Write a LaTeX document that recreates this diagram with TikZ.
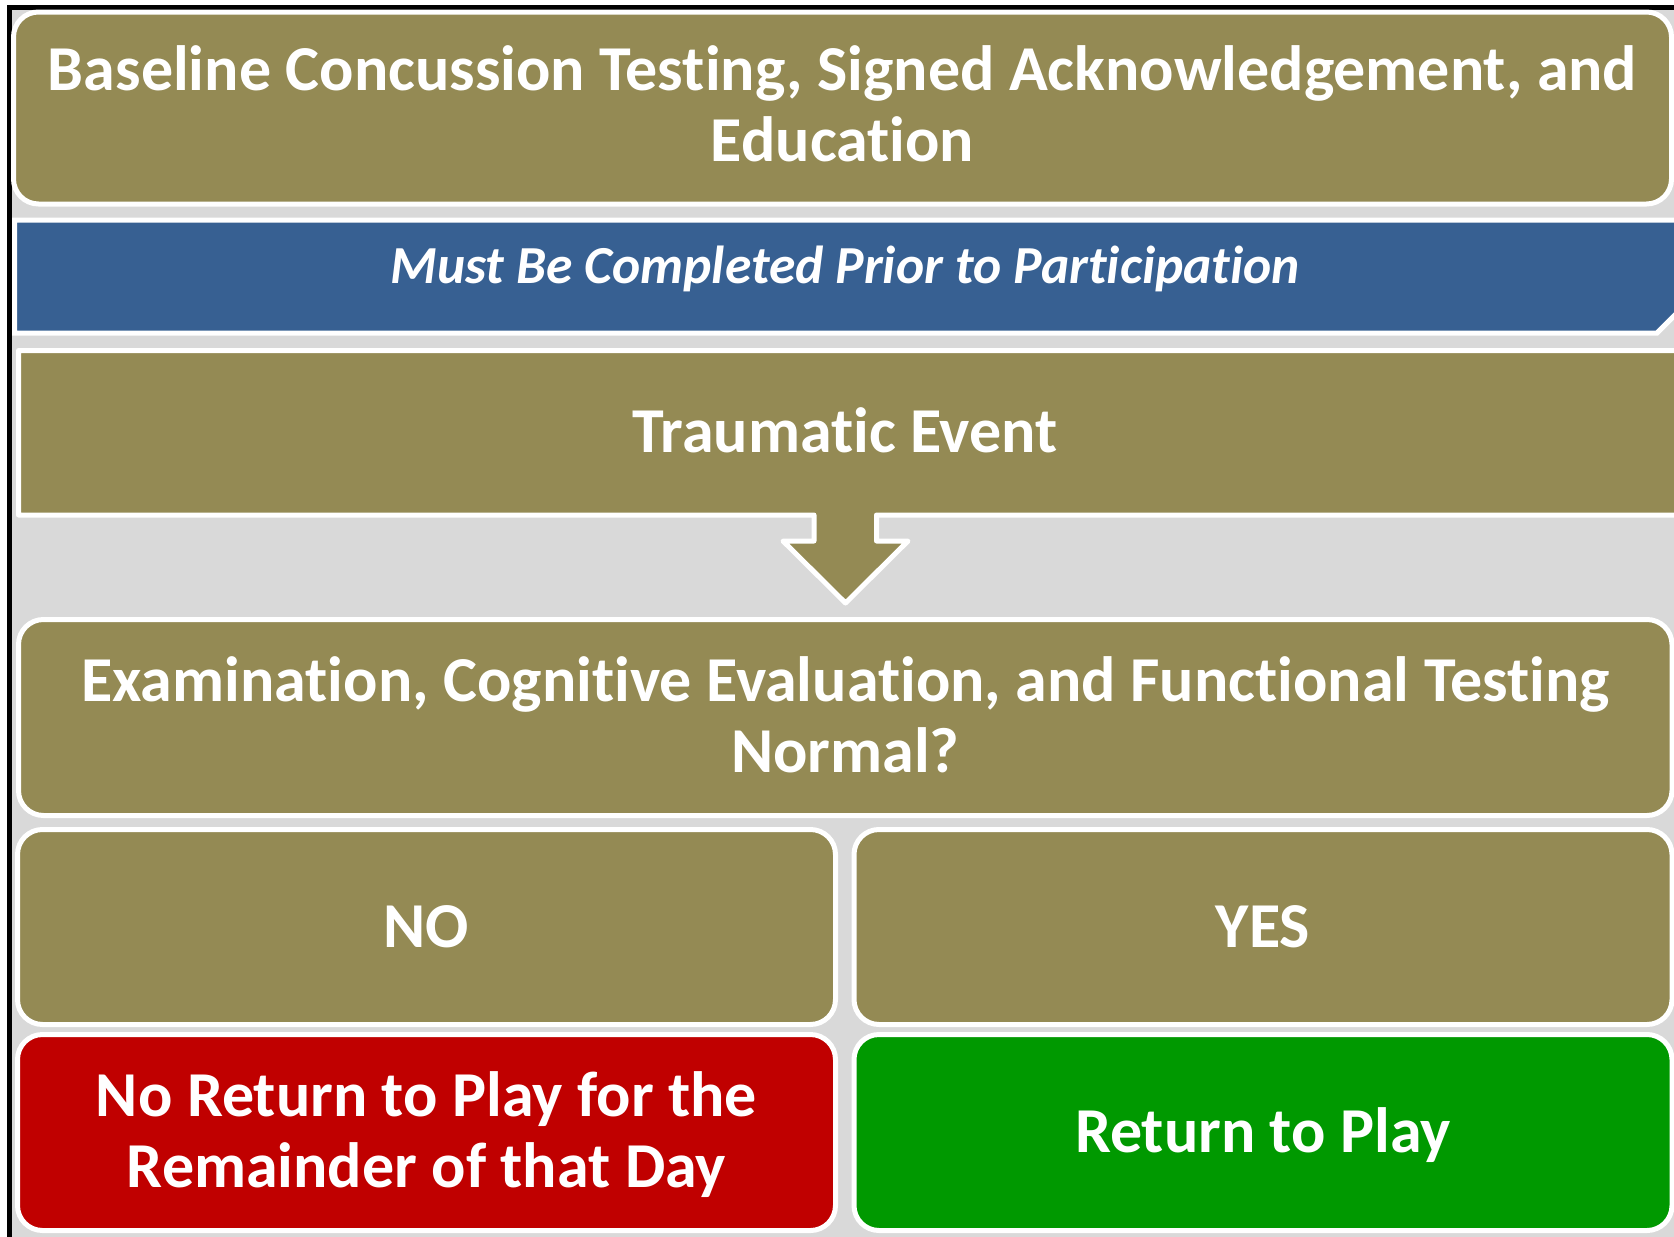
\documentclass[tikz,border=0pt]{standalone}
\usepackage{fontspec}
\setmainfont{Carlito}[Ligatures = NoCommon]

\definecolor{boxolive}{HTML}{948A54}
\definecolor{bandblue}{HTML}{376092}
\definecolor{stopred}{HTML}{C00000}
\definecolor{playgreen}{HTML}{009900}
\definecolor{bggray}{HTML}{D9D9D9}

\begin{document}
\begin{tikzpicture}[x = 1pt,
                    y = -1pt,
                    line width = 5pt,
                    line join = round,
                    box/.style = {draw = white, fill = boxolive, rounded corners = 25pt, inner sep = 0pt},
                    wide/.style = {minimum width = 1653.5pt, minimum height = 196pt},
                    half/.style = {minimum width = 818pt, minimum height = 196pt},
                    txt/.style = {text = white, align = center, inner sep = 0pt,
                                  font = \fontsize{64}{70.5}\selectfont\bfseries}]

    \clip (0,0) rectangle (1674,1237);

    % page ground and frame
    \fill[bggray] (12,10) rectangle (1674,1237);
    \draw[black, line join = miter] (9.5,1240) |- (1680,7.5);

    \node[box, minimum width = 1658pt, minimum height = 192pt] (base) at (842.5,108) {};
    \node[txt] (basetext) at ([yshift = 4pt]base)
        {Baseline Concussion Testing, Signed Acknowledgement, and\\Education};

    % blue band
    \draw[fill = bandblue, draw = white, line join = miter]
        (14.5,220) -- (1690,220) -- (1690,300) -- (1657,333) -- (14.5,333) -- cycle;
    \node[txt, font = \fontsize{53.5}{60}\selectfont\bfseries\itshape] (prior) at (845,269)
        {Must Be Completed Prior to Participation};

    % event box with its arrow
    \draw[fill = boxolive, draw = white]
        (18.5,350.5) -- (1690,350.5) -- (1690,515) -- (876.5,515) -- (876.5,541)
        -- (908,541) -- (845.5,603) -- (783,541) -- (814,541) -- (814,515)
        -- (18.5,515) -- cycle;
    \node[txt] (event) at (845,430) {Traumatic Event};

    \node[box, wide] (exam) at (845.25,717.5) {};
    \node[txt] (examtext) at ([yshift = 2.5pt]exam)
        {Examination, Cognitive Evaluation, and Functional Testing\\Normal?};

    \node[box, half, minimum height = 195pt] (no)  at (426.5,927) {};
    \node[box, half, minimum height = 195pt] (yes) at (1263,927)  {};
    \node[txt] (notext)  at (no)  {NO};
    \node[txt] (yestext) at (yes) {YES};

    \node[box, half, fill = stopred]   (stop) at (426.5,1132.5) {};
    \node[box, half, fill = playgreen] (play) at (1263,1132.5)  {};
    \node[txt] (stoptext) at ([yshift = -2pt]stop)
        {No Return to Play for the\\Remainder of that Day};
    \node[txt] (playtext) at ([yshift = -3pt]play) {Return to Play};
\end{tikzpicture}
\end{document}
